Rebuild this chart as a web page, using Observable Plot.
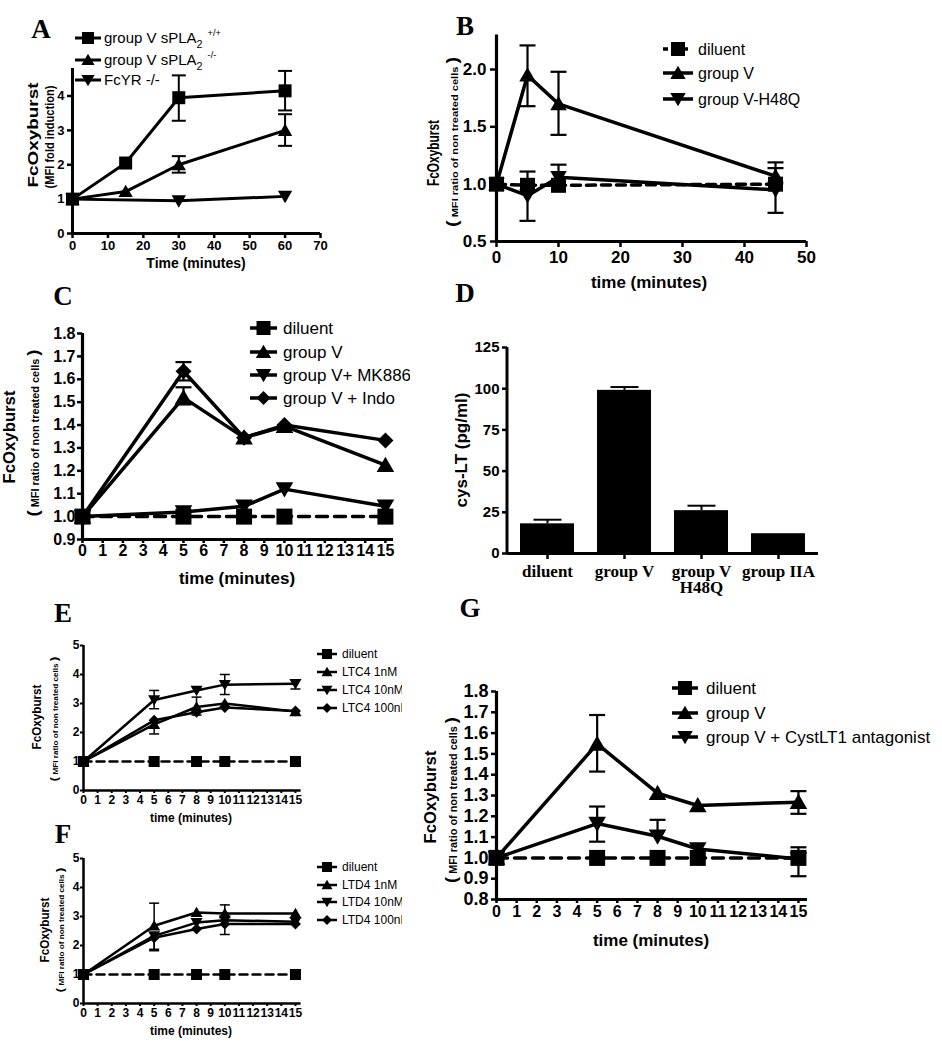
<!DOCTYPE html>
<html><head><meta charset="utf-8">
<script src="https://cdn.jsdelivr.net/npm/d3@7"></script>
<script src="https://cdn.jsdelivr.net/npm/@observablehq/plot@0.6"></script>
<style>
html,body{margin:0;padding:0;background:#fff}
#fig{position:relative;width:942px;height:1050px;overflow:hidden;background:#fff}
#fig svg{position:absolute;overflow:hidden;background:transparent}
</style></head><body><div id="fig"></div>
<script>
const FONT = "'Liberation Sans', Arial, Helvetica, sans-serif";
const SERIF = "'Liberation Serif', 'Times New Roman', Times, serif";

// ================= DATA =================
// Panel A
const aTime = [0, 15, 30, 60];
const aFcTime = [0, 30, 60];
const aWT = [1, 2.05, 3.95, 4.15];
const aWTLo = [null, null, 3.28, 3.58];
const aWTHi = [null, null, 4.60, 4.73];
const aKO = [1, 1.22, 2.0, 3.0];
const aKOLo = [null, null, 1.77, 2.55];
const aKOHi = [null, null, 2.25, 3.47];
const aFcR = [1, 0.95, 1.08];
const aNames = ["group V sPLA", "group V sPLA", "FcYR -/-"];
const aSubs = ["2", "2", ""];
const aSups = ["+/+", "-/-", ""];
const aXTicks = [0, 10, 20, 30, 40, 50, 60, 70];
const aYTicks = [0, 1, 2, 3, 4];

// Panel B
const bTime = [0, 5, 10, 45];
const bDiluent = [1, 0.99, 0.99, 1.0];
const bGroupV = [1, 1.95, 1.70, 1.07];
const bGroupVLo = [null, 1.68, 1.43, null];
const bGroupVHi = [null, 2.21, 1.98, 1.14];
const bH48Q = [1, 0.90, 1.06, 0.95];
const bH48QLo = [null, 0.68, null, 0.75];
const bH48QHi = [null, 1.11, 1.17, 1.19];
const bNames = ["diluent", "group V", "group V-H48Q"];
const bXTicks = [0, 10, 20, 30, 40, 50];
const bYTicks = [0.5, 1.0, 1.5, 2.0];

// Panel C
const cTime = [0, 5, 8, 10, 15];
const cDiluent = [1, 1, 1, 1, 1];
const cGroupV = [1, 1.52, 1.345, 1.395, 1.225];
const cGroupVLo = [null, 1.49, null, null, null];
const cGroupVHi = [null, 1.565, null, null, null];
const cMK886 = [1, 1.02, 1.045, 1.12, 1.045];
const cIndo = [1, 1.635, 1.345, 1.40, 1.333];
const cIndoLo = [null, 1.595, null, null, null];
const cIndoHi = [null, 1.675, null, null, null];
const cNames = ["diluent", "group V", "group V+ MK886", "group V + Indo"];
const minuteTicks = [0, 1, 2, 3, 4, 5, 6, 7, 8, 9, 10, 11, 12, 13, 14, 15];
const cYTicks = [0.9, 1.0, 1.1, 1.2, 1.3, 1.4, 1.5, 1.6, 1.7, 1.8];

// Panel D
const dCats = ["diluent", "group V", "group V H48Q", "group IIA"];
const dTickLabels = ["diluent", "group V", "group V\nH48Q", "group IIA"];
const dMeans = [18, 99, 26, 12];
const dErrHi = [20.5, 101, 29, null];
const dYTicks = [0, 25, 50, 75, 100, 125];

// Panel E
const eTime = [0, 5, 8, 10, 15];
const eDiluent = [1, 1, 1, 1, 1];
const eLTC4_1 = [1, 2.28, 2.88, 3.0, 2.72];
const eLTC4_1Lo = [null, 1.95, 2.6, null, null];
const eLTC4_1Hi = [null, null, 3.22, null, null];
const eLTC4_10 = [1, 3.12, 3.45, 3.65, 3.68];
const eLTC4_10Lo = [null, 2.82, null, 3.31, 3.5];
const eLTC4_10Hi = [null, 3.45, null, 4.0, null];
const eLTC4_100 = [1, 2.42, 2.7, 2.86, 2.74];
const eNames = ["diluent", "LTC4 1nM", "LTC4 10nM", "LTC4 100nM"];
const eYTicks = [0, 1, 2, 3, 4, 5];

// Panel F
const fTime = [0, 5, 8, 10, 15];
const fDiluent = [1, 1, 1, 1, 1];
const fLTD4_1 = [1, 2.68, 3.14, 3.1, 3.1];
const fLTD4_1Hi = [null, 3.46, null, 3.4, null];
const fLTD4_10 = [1, 2.33, 2.79, 2.87, 2.82];
const fLTD4_10Lo = [null, 1.87, null, null, null];
const fLTD4_100 = [1, 2.27, 2.57, 2.74, 2.74];
const fLTD4_100Lo = [null, 1.82, null, 2.38, null];
const fNames = ["diluent", "LTD4 1nM", "LTD4 10nM", "LTD4 100nM"];

// Panel G
const gTime = [0, 5, 8, 10, 15];
const gDiluent = [1, 1, 1, 1, 1];
const gGroupV = [1, 1.548, 1.311, 1.252, 1.268];
const gGroupVLo = [null, 1.415, null, null, 1.212];
const gGroupVHi = [null, 1.687, null, null, 1.321];
const gAntag = [1, 1.165, 1.104, 1.043, 0.995];
const gAntagLo = [null, 1.078, null, null, 0.912];
const gAntagHi = [null, 1.247, 1.183, null, 1.051];
const gNames = ["diluent", "group V", "group V + CystLT1 antagonist"];
const gYTicks = [0.8, 0.9, 1.0, 1.1, 1.2, 1.3, 1.4, 1.5, 1.6, 1.7, 1.8];

const panelLetters = ["A", "B", "C", "D", "E", "F", "G"];

// ================= HELPERS =================
const fig = document.getElementById("fig");
const fmtInt = d3.format("d");
const fmt1 = d3.format(".1f");

function sym(kind, s) {
  const h = s / 2;
  return {draw(ctx) {
    if (kind === "square") { ctx.moveTo(-h, -h); ctx.lineTo(h, -h); ctx.lineTo(h, h); ctx.lineTo(-h, h); ctx.closePath(); }
    else if (kind === "up") { ctx.moveTo(0, -h * 1.05); ctx.lineTo(h * 1.1, h * 0.85); ctx.lineTo(-h * 1.1, h * 0.85); ctx.closePath(); }
    else if (kind === "down") { ctx.moveTo(0, h * 1.05); ctx.lineTo(h * 1.1, -h * 0.85); ctx.lineTo(-h * 1.1, -h * 0.85); ctx.closePath(); }
    else if (kind === "diamond") { ctx.moveTo(0, -h); ctx.lineTo(h, 0); ctx.lineTo(0, h); ctx.lineTo(-h, 0); ctx.closePath(); }
    else if (kind === "cap") { ctx.moveTo(-h, 0); ctx.lineTo(h, 0); }
  }};
}

function place(svg, left, top) {
  svg.style.left = left + "px";
  svg.style.top = top + "px";
  svg.style.background = "transparent";
  svg.style.overflow = "hidden";
  svg.style.maxWidth = "none";
  fig.appendChild(svg);
}

function decorate(svg, p) {
  const L = p.left, T = p.top;
  const g = d3.select(svg).append("g").attr("font-family", FONT).attr("fill", "black").attr("text-anchor", "start");
  if (p.xLabel) {
    g.append("text").attr("x", p.xLabel.x - L).attr("y", p.xLabel.y - T + p.xLabel.size * 0.35)
      .attr("text-anchor", "middle").attr("font-size", p.xLabel.size).attr("font-weight", "bold").text(p.xLabel.text);
  }
  for (const yl of (p.yLabels || [])) {
    const maxSize = d3.max(yl.parts, d => d.size);
    const t = g.append("text")
      .attr("transform", `translate(${yl.x - L},${yl.y - T}) rotate(-90)`)
      .attr("y", maxSize * 0.33)
      .attr("text-anchor", "middle").attr("font-weight", "bold")
      .attr("textLength", yl.len).attr("lengthAdjust", "spacingAndGlyphs");
    yl.parts.forEach(pt => t.append("tspan").attr("font-size", pt.size).text(pt.t));
  }
  if (p.legend) {
    const lg = p.legend;
    lg.items.forEach((it, i) => {
      const y = lg.rows[i] - T;
      g.append("line").attr("x1", lg.x1 - L).attr("x2", lg.x2 - L).attr("y1", y).attr("y2", y)
        .attr("stroke", "black").attr("stroke-width", lg.lineW)
        .attr("stroke-dasharray", it.dashed ? lg.dash : null);
      g.append("path").attr("d", d3.symbol().type(sym(it.shape, lg.markS))())
        .attr("transform", `translate(${(lg.x1 + lg.x2) / 2 - L},${y})`);
      const t = g.append("text").attr("x", lg.tx - L).attr("y", y + lg.size * 0.36)
        .attr("font-size", lg.size).attr("text-anchor", "start");
      t.append("tspan").text(it.label);
      if (it.sub) t.append("tspan").attr("font-size", lg.size * 0.72).attr("dy", lg.size * 0.3).text(it.sub);
      if (it.sup) t.append("tspan").attr("font-size", lg.size * 0.62).attr("dx", 5).attr("dy", -lg.size * 0.8).text(it.sup);
    });
  }
}

function linePanel(p) {
  const marks = [
    Plot.ruleX([p.xDomain[0]], {strokeWidth: p.axisW}),
    Plot.ruleY([p.yDomain[0]], {strokeWidth: p.axisW}),
    Plot.axisX({ticks: p.xTicks, tickSize: p.xTickSize, tickPadding: p.xTickPad, fontSize: p.xTickFont,
      fontWeight: "bold", strokeWidth: p.tickW, label: null, tickFormat: fmtInt}),
    Plot.axisY({ticks: p.yTicks, tickSize: p.yTickSize, tickPadding: p.yTickPad, fontSize: p.yTickFont,
      fontWeight: "bold", strokeWidth: p.tickW, label: null, tickFormat: p.yFormat || fmtInt})
  ];
  for (const s of p.series) {
    const data = s.x.map((x, i) => ({x, y: s.y[i]}));
    const errs = [], caps = [];
    s.x.forEach((x, i) => {
      const lo = s.lo ? s.lo[i] : null, hi = s.hi ? s.hi[i] : null;
      if (lo == null && hi == null) return;
      errs.push({x, y1: lo ?? s.y[i], y2: hi ?? s.y[i]});
      if (lo != null) caps.push({x, y: lo});
      if (hi != null) caps.push({x, y: hi});
    });
    marks.push(Plot.ruleX(errs, {x: "x", y1: "y1", y2: "y2", strokeWidth: p.errW}));
    marks.push(Plot.dot(caps, {x: "x", y: "y", symbol: sym("cap", p.capW), fill: "none", stroke: "black", strokeWidth: p.errW}));
    marks.push(Plot.line(data, {x: "x", y: "y", stroke: "black", strokeWidth: p.lineW,
      strokeDasharray: s.dashed ? p.dash : null, strokeLinejoin: "miter"}));
    marks.push(Plot.dot(data, {x: "x", y: "y", symbol: sym(s.shape, p.markS), fill: "black", stroke: "none"}));
  }
  const svg = Plot.plot({
    width: p.w, height: p.h,
    marginLeft: p.mL, marginRight: p.mR, marginTop: p.mT, marginBottom: p.mB,
    x: {domain: p.xDomain}, y: {domain: p.yDomain},
    style: {fontFamily: FONT, color: "black", background: "transparent"},
    marks
  });
  place(svg, p.left, p.top);
  decorate(svg, p);
  return svg;
}

function mfiLabel(x, y, len, big, small) {
  return {x, y, len, parts: [{t: "(", size: big}, {t: " MFI ratio of non treated cells ", size: small}, {t: ")", size: big}]};
}

// ================= LETTERS =================
const letterPos = [[41, 38], [465, 35], [63, 305], [465, 302], [63, 622], [63, 843], [470, 617]];
const base = d3.create("svg").attr("width", 942).attr("height", 1050).style("left", "0px").style("top", "0px");
panelLetters.forEach((l, i) => base.append("text").attr("x", letterPos[i][0]).attr("y", letterPos[i][1])
  .attr("text-anchor", "middle").attr("font-family", SERIF).attr("font-weight", "bold").attr("font-size", 27).text(l));
fig.appendChild(base.node());

// ================= PANEL A =================
linePanel({
  left: 0, top: 0, w: 340, h: 280, mL: 72, mR: 20, mT: 68, mB: 47,
  xDomain: [0, 70], yDomain: [0, 4.8], xTicks: aXTicks, yTicks: aYTicks,
  xTickFont: 13, yTickFont: 13, xTickSize: 5, xTickPad: 2, yTickSize: 5, yTickPad: 3,
  axisW: 3, tickW: 2.5, lineW: 3, errW: 2, capW: 14, markS: 13, dash: "9,6",
  series: [
    {x: aTime, y: aWT, lo: aWTLo, hi: aWTHi, shape: "square"},
    {x: aTime, y: aKO, lo: aKOLo, hi: aKOHi, shape: "up"},
    {x: aFcTime, y: aFcR, shape: "down"}
  ],
  xLabel: {text: "Time (minutes)", x: 196, y: 263, size: 14},
  yLabels: [
    {x: 33, y: 135, len: 105, parts: [{t: "FcOxyburst", size: 15}]},
    {x: 50, y: 137, len: 103, parts: [{t: "(MFI fold induction)", size: 13}]}
  ],
  legend: {x1: 75, x2: 101, tx: 104, rows: [38, 60, 80], size: 15, markS: 12, lineW: 3,
    items: [
      {shape: "square", label: aNames[0], sub: aSubs[0], sup: aSups[0]},
      {shape: "up", label: aNames[1], sub: aSubs[1], sup: aSups[1]},
      {shape: "down", label: aNames[2]}
    ]}
});

// ================= PANEL B =================
linePanel({
  left: 420, top: 20, w: 400, h: 275, mL: 76, mR: 14, mT: 14.6, mB: 54,
  xDomain: [0, 50], yDomain: [0.5, 2.3], xTicks: bXTicks, yTicks: bYTicks, yFormat: fmt1,
  xTickFont: 17, yTickFont: 17, xTickSize: 6, xTickPad: 3, yTickSize: 6, yTickPad: 4,
  axisW: 3.2, tickW: 2.5, lineW: 3.5, errW: 2.2, capW: 16, markS: 15, dash: "9,6",
  series: [
    {x: bTime, y: bDiluent, shape: "square", dashed: true},
    {x: bTime, y: bGroupV, lo: bGroupVLo, hi: bGroupVHi, shape: "up"},
    {x: bTime, y: bH48Q, lo: bH48QLo, hi: bH48QHi, shape: "down"}
  ],
  xLabel: {text: "time (minutes)", x: 649, y: 282, size: 17},
  yLabels: [
    {x: 433, y: 153, len: 66, parts: [{t: "FcOxyburst", size: 17}]},
    mfiLabel(453, 142, 170, 16, 9)
  ],
  legend: {x1: 663, x2: 693, tx: 698, rows: [49, 73, 99], size: 16, markS: 14, lineW: 3.5, dash: "5,5",
    items: [
      {shape: "square", label: bNames[0], dashed: true},
      {shape: "up", label: bNames[1]},
      {shape: "down", label: bNames[2]}
    ]}
});

// ================= PANEL C =================
linePanel({
  left: 0, top: 290, w: 410, h: 300, mL: 82, mR: 17, mT: 43, mB: 51,
  xDomain: [0, 15.4], yDomain: [0.9, 1.8], xTicks: minuteTicks, yTicks: cYTicks, yFormat: fmt1,
  xTickFont: 16, yTickFont: 16, xTickSize: 4, xTickPad: 1, yTickSize: 5, yTickPad: 2,
  axisW: 3.2, tickW: 2.5, lineW: 3.5, errW: 2.2, capW: 16, markS: 16, dash: "11,7",
  series: [
    {x: cTime, y: cDiluent, shape: "square", dashed: true},
    {x: cTime, y: cMK886, shape: "down"},
    {x: cTime, y: cIndo, lo: cIndoLo, hi: cIndoHi, shape: "diamond"},
    {x: cTime, y: cGroupV, lo: cGroupVLo, hi: cGroupVHi, shape: "up"}
  ],
  xLabel: {text: "time (minutes)", x: 237, y: 578, size: 17},
  yLabels: [
    {x: 9, y: 437, len: 93, parts: [{t: "FcOxyburst", size: 17}]},
    mfiLabel(33, 433, 167, 17, 10)
  ],
  legend: {x1: 250, x2: 277, tx: 283, rows: [328, 352, 375, 398], size: 17, markS: 14, lineW: 3.5,
    items: [
      {shape: "square", label: cNames[0]},
      {shape: "up", label: cNames[1]},
      {shape: "down", label: cNames[2]},
      {shape: "diamond", label: cNames[3]}
    ]}
});

// ================= PANEL D =================
(function () {
  const p = {left: 420, top: 330};
  const data = dCats.map((c, i) => ({cat: c, v: dMeans[i], hi: dErrHi[i]}));
  const err = data.filter(d => d.hi != null);
  const svg = Plot.plot({
    width: 400, height: 270, marginLeft: 87, marginRight: 2, marginTop: 17, marginBottom: 47,
    x: {domain: dCats, paddingInner: 0.3, paddingOuter: 0.167},
    y: {domain: [0, 125]},
    style: {fontFamily: FONT, color: "black", background: "transparent"},
    marks: [
      Plot.ruleX(err, {x: "cat", y1: "v", y2: "hi", strokeWidth: 2}),
      Plot.dot(err, {x: "cat", y: "hi", symbol: sym("cap", 28), fill: "none", stroke: "black", strokeWidth: 2}),
      Plot.barY(data, {x: "cat", y: "v", fill: "black"}),
      Plot.ruleY([0], {strokeWidth: 3}),
      Plot.axisX({tickSize: 6, tickPadding: 7, fontFamily: SERIF, fontSize: 17, fontWeight: "bold",
        strokeWidth: 2.5, label: null, lineHeight: 0.9, tickFormat: d => dTickLabels[dCats.indexOf(d)]}),
      Plot.axisY({ticks: dYTicks, tickSize: 5, tickPadding: 3, fontSize: 15, fontWeight: "bold",
        strokeWidth: 2.5, label: null, tickFormat: fmtInt})
    ]
  });
  place(svg, p.left, p.top);
  const xs = svg.scale("x"), ys = svg.scale("y");
  d3.select(svg).append("line").attr("x1", xs.range[0]).attr("x2", xs.range[0])
    .attr("y1", ys.range[0]).attr("y2", ys.range[1]).attr("stroke", "black").attr("stroke-width", 3);
  decorate(svg, {left: 420, top: 330,
    yLabels: [{x: 462, y: 450, len: 115, parts: [{t: "cys-LT (pg/ml)", size: 16}]}]});
})();

// ================= PANEL E =================
const smallCfg = {
  w: 402, h: 230, mL: 83, mR: 101.4,
  xDomain: [0, 15.4], yDomain: [0, 5], xTicks: minuteTicks, yTicks: eYTicks,
  xTickFont: 12, yTickFont: 12, xTickSize: 3, xTickPad: 2, yTickSize: 3, yTickPad: 1,
  axisW: 2.5, tickW: 2, lineW: 2.5, errW: 1.5, capW: 10, markS: 11, dash: "8,5"
};
linePanel(Object.assign({}, smallCfg, {
  left: 0, top: 600, mT: 45, mB: 40,
  series: [
    {x: eTime, y: eDiluent, shape: "square", dashed: true},
    {x: eTime, y: eLTC4_100, shape: "diamond"},
    {x: eTime, y: eLTC4_1, lo: eLTC4_1Lo, hi: eLTC4_1Hi, shape: "up"},
    {x: eTime, y: eLTC4_10, lo: eLTC4_10Lo, hi: eLTC4_10Hi, shape: "down"}
  ],
  xLabel: {text: "time (minutes)", x: 191, y: 818, size: 12},
  yLabels: [
    {x: 37, y: 717, len: 65, parts: [{t: "FcOxyburst", size: 12}]},
    mfiLabel(54, 719, 125, 11, 6.5)
  ],
  legend: {x1: 317, x2: 337, tx: 342, rows: [654, 672, 690, 708], size: 12, markS: 10, lineW: 2.5,
    items: [
      {shape: "square", label: eNames[0]},
      {shape: "up", label: eNames[1]},
      {shape: "down", label: eNames[2]},
      {shape: "diamond", label: eNames[3]}
    ]}
}));

// ================= PANEL F =================
linePanel(Object.assign({}, smallCfg, {
  left: 0, top: 820, mT: 38, mB: 47,
  series: [
    {x: fTime, y: fDiluent, shape: "square", dashed: true},
    {x: fTime, y: fLTD4_100, lo: fLTD4_100Lo, shape: "diamond"},
    {x: fTime, y: fLTD4_10, lo: fLTD4_10Lo, shape: "down"},
    {x: fTime, y: fLTD4_1, hi: fLTD4_1Hi, shape: "up"}
  ],
  xLabel: {text: "time (minutes)", x: 191, y: 1031, size: 12},
  yLabels: [
    {x: 45, y: 930, len: 65, parts: [{t: "FcOxyburst", size: 12}]},
    mfiLabel(60, 930, 125, 11, 6.5)
  ],
  legend: {x1: 317, x2: 337, tx: 342, rows: [867, 885, 902, 920], size: 12, markS: 10, lineW: 2.5,
    items: [
      {shape: "square", label: fNames[0]},
      {shape: "up", label: fNames[1]},
      {shape: "down", label: fNames[2]},
      {shape: "diamond", label: fNames[3]}
    ]}
}));

// ================= PANEL G =================
linePanel({
  left: 420, top: 600, w: 522, h: 350, mL: 76, mR: 135, mT: 91, mB: 51,
  xDomain: [0, 15.45], yDomain: [0.8, 1.8], xTicks: minuteTicks, yTicks: gYTicks, yFormat: fmt1,
  xTickFont: 16, yTickFont: 18, xTickSize: 4, xTickPad: 2, yTickSize: 5, yTickPad: 3,
  axisW: 3.2, tickW: 2.5, lineW: 3.5, errW: 2.2, capW: 16, markS: 16, dash: "11,7",
  series: [
    {x: gTime, y: gDiluent, shape: "square", dashed: true},
    {x: gTime, y: gAntag, lo: gAntagLo, hi: gAntagHi, shape: "down"},
    {x: gTime, y: gGroupV, lo: gGroupVLo, hi: gGroupVHi, shape: "up"}
  ],
  xLabel: {text: "time (minutes)", x: 651, y: 940, size: 17},
  yLabels: [
    {x: 430, y: 797, len: 93, parts: [{t: "FcOxyburst", size: 17}]},
    mfiLabel(451, 800, 166, 17, 10)
  ],
  legend: {x1: 672, x2: 698, tx: 706, rows: [688, 713, 737], size: 17, markS: 14, lineW: 3.5,
    items: [
      {shape: "square", label: gNames[0]},
      {shape: "up", label: gNames[1]},
      {shape: "down", label: gNames[2]}
    ]}
});
</script></body></html>
